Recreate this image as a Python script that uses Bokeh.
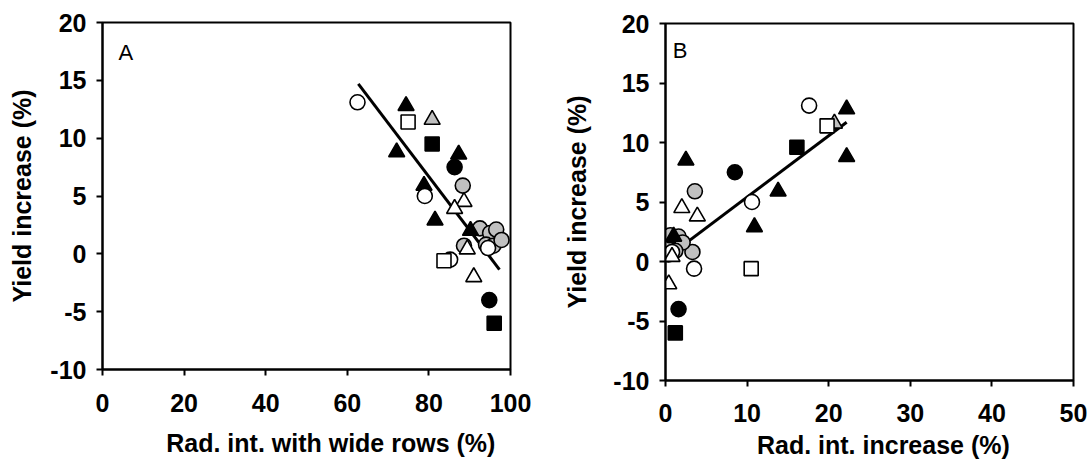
from bokeh.plotting import figure
from bokeh.models import Range1d, FixedTicker, Label
from bokeh.embed import file_html
from bokeh.resources import INLINE

# ---------------- data ----------------
# Panel A: radiation interception with wide rows (%) vs yield increase (%)
a_open_circle_x = [62.5, 79.0, 85.2, 94.5]
a_open_circle_y = [13.1, 5.0, -0.5, 0.5]
a_black_tri_x = [74.4, 72.1, 87.3, 78.8, 81.5, 90.2]
a_black_tri_y = [12.8, 8.8, 8.6, 5.9, 2.9, 2.0]
a_open_sq_x = [74.9, 83.7]
a_open_sq_y = [11.4, -0.6]
a_gray_tri_x = [80.8]
a_gray_tri_y = [11.6]
a_black_sq_x = [80.8, 96.0]
a_black_sq_y = [9.5, -6.0]
a_black_circle_x = [86.3, 94.8]
a_black_circle_y = [7.5, -4.0]
a_gray_circle_x = [88.3, 88.6, 92.5, 95.0, 96.5, 94.0, 95.8, 97.8]
a_gray_circle_y = [5.9, 0.7, 2.2, 1.8, 2.1, 0.8, 0.7, 1.2]
a_open_tri_x = [88.6, 86.3, 89.4, 91.0]
a_open_tri_y = [4.5, 3.9, 0.4, -2.0]
a_fit_x = [62.7, 97.3]
a_fit_y = [14.7, -1.36]

# Panel B: radiation interception increase (%) vs yield increase (%)
b_open_circle_x = [17.6, 10.6, 3.5, 0.8]
b_open_circle_y = [13.1, 5.0, -0.6, 0.8]
b_black_tri_x = [22.2, 22.2, 2.5, 13.8, 10.9, 1.0]
b_black_tri_y = [12.8, 8.8, 8.5, 5.9, 2.9, 2.1]
b_open_sq_x = [19.8, 10.5]
b_open_sq_y = [11.4, -0.6]
b_gray_tri_x = [20.7]
b_gray_tri_y = [11.6]
b_black_sq_x = [16.1, 1.2]
b_black_sq_y = [9.6, -6.0]
b_black_circle_x = [8.5, 1.6]
b_black_circle_y = [7.5, -4.0]
b_gray_circle_x = [3.6, 3.3, 0.3, 0.6, 1.6, 2.1, 1.2, 0.4]
b_gray_circle_y = [5.9, 0.8, 1.3, 2.2, 2.1, 1.6, 0.9, 0.6]
b_open_tri_x = [2.0, 3.9, 0.8, 0.4]
b_open_tri_y = [4.5, 3.8, 0.4, -1.9]
b_fit_x = [0.3, 22.2]
b_fit_y = [0.41, 11.7]

y_ticks = [-10, -5, 0, 5, 10, 15, 20]
y_tick_labels = ["-10", "-5", "0", "5", "10", "15", "20"]
a_x_ticks = [0, 20, 40, 60, 80, 100]
b_x_ticks = [0, 10, 20, 30, 40, 50]

a_x_title = "Rad. int. with wide rows (%)"
b_x_title = "Rad. int. increase (%)"
y_title = "Yield increase (%)"

FONT = "Liberation Sans"
GRAY = "#c0c0c0"
NBSP = "\u00a0"


def style(p, xticks, x_label_standoff, x_title_standoff, y_title_standoff):
    p.xgrid.visible = False
    p.ygrid.visible = False
    p.outline_line_color = "black"
    p.outline_line_width = 2
    p.outline_line_alpha = 1
    p.xaxis.ticker = FixedTicker(ticks=xticks)
    p.yaxis.ticker = FixedTicker(ticks=y_ticks)
    p.yaxis.major_label_overrides = {t: s for t, s in zip(y_ticks, y_tick_labels)}
    for ax in (p.xaxis[0], p.yaxis[0]):
        ax.axis_line_width = 2
        ax.axis_line_color = "black"
        ax.major_tick_line_width = 2
        ax.major_tick_line_color = "black"
        ax.major_tick_out = 6
        ax.major_tick_in = 0
        ax.minor_tick_line_color = None
        ax.major_label_text_font = FONT
        ax.major_label_text_font_size = "25px"
        ax.major_label_text_font_style = "bold"
        ax.major_label_text_color = "black"
        ax.axis_label_text_font = FONT
        ax.axis_label_text_font_size = "25px"
        ax.axis_label_text_font_style = "bold"
        ax.axis_label_text_color = "black"
    p.xaxis.major_label_standoff = x_label_standoff
    p.xaxis.axis_label_standoff = x_title_standoff
    p.yaxis.major_label_standoff = 10
    p.yaxis.axis_label_standoff = y_title_standoff


def draw(p, d, fit_x, fit_y):
    p.line(fit_x, fit_y, line_color="black", line_width=3)
    lw = 1.6
    p.scatter(d["gc"][0], d["gc"][1], marker="circle", size=15, fill_color=GRAY, line_color="black", line_width=lw)
    p.scatter(d["bt"][0], d["bt"][1], marker="triangle", size=16, fill_color="black", line_color="black", line_width=lw)
    p.scatter(d["gt"][0], d["gt"][1], marker="triangle", size=16, fill_color=GRAY, line_color="black", line_width=lw)
    p.scatter(d["oc"][0], d["oc"][1], marker="circle", size=15, fill_color="white", line_color="black", line_width=lw)
    p.scatter(d["ot"][0], d["ot"][1], marker="triangle", size=16, fill_color="white", line_color="black", line_width=lw)
    p.scatter(d["os"][0], d["os"][1], marker="square", size=14, fill_color="white", line_color="black", line_width=lw)
    p.scatter(d["bc"][0], d["bc"][1], marker="circle", size=15, fill_color="black", line_color="black", line_width=lw)
    p.scatter(d["bs"][0], d["bs"][1], marker="square", size=14, fill_color="black", line_color="black", line_width=lw)


# ---------------- panel A ----------------
pa = figure(width=560, height=465, x_range=Range1d(0, 100), y_range=Range1d(-10, 20),
            output_backend="svg", toolbar_location=None,
            min_border_left=102, min_border_right=50, min_border_top=22, min_border_bottom=96,
            x_axis_label=NBSP * 7 + a_x_title, y_axis_label=y_title)
style(pa, a_x_ticks, 18, 14, 11)
draw(pa, {
    "gc": (a_gray_circle_x, a_gray_circle_y),
    "bt": (a_black_tri_x, a_black_tri_y),
    "gt": (a_gray_tri_x, a_gray_tri_y),
    "oc": (a_open_circle_x, a_open_circle_y),
    "ot": (a_open_tri_x, a_open_tri_y),
    "os": (a_open_sq_x, a_open_sq_y),
    "bc": (a_black_circle_x, a_black_circle_y),
    "bs": (a_black_sq_x, a_black_sq_y),
}, a_fit_x, a_fit_y)
pa.add_layout(Label(x=5.7, y=17.4, text="A", text_font=FONT, text_font_size="22px",
                    text_align="center", text_baseline="middle", text_color="black"))

# ---------------- panel B ----------------
pb = figure(width=528, height=465, x_range=Range1d(0, 50), y_range=Range1d(-10, 20),
            output_backend="svg", toolbar_location=None,
            min_border_left=103, min_border_right=15, min_border_top=23, min_border_bottom=85,
            x_axis_label=NBSP * 4 + b_x_title, y_axis_label=y_title)
style(pb, b_x_ticks, 17, 6, 19)
draw(pb, {
    "gc": (b_gray_circle_x, b_gray_circle_y),
    "bt": (b_black_tri_x, b_black_tri_y),
    "gt": (b_gray_tri_x, b_gray_tri_y),
    "oc": (b_open_circle_x, b_open_circle_y),
    "ot": (b_open_tri_x, b_open_tri_y),
    "os": (b_open_sq_x, b_open_sq_y),
    "bc": (b_black_circle_x, b_black_circle_y),
    "bs": (b_black_sq_x, b_black_sq_y),
}, b_fit_x, b_fit_y)
pb.add_layout(Label(x=1.8, y=17.7, text="B", text_font=FONT, text_font_size="22px",
                    text_align="center", text_baseline="middle", text_color="black"))

# two independent roots placed side by side, so that each panel keeps its own frame
side_by_side = """
{% block postamble %}
<style>
  body { display: flex !important; flex-direction: row; align-items: flex-start; }
</style>
{% endblock %}
"""
open("out.html", "w").write(file_html([pa, pb], INLINE, template=side_by_side))
